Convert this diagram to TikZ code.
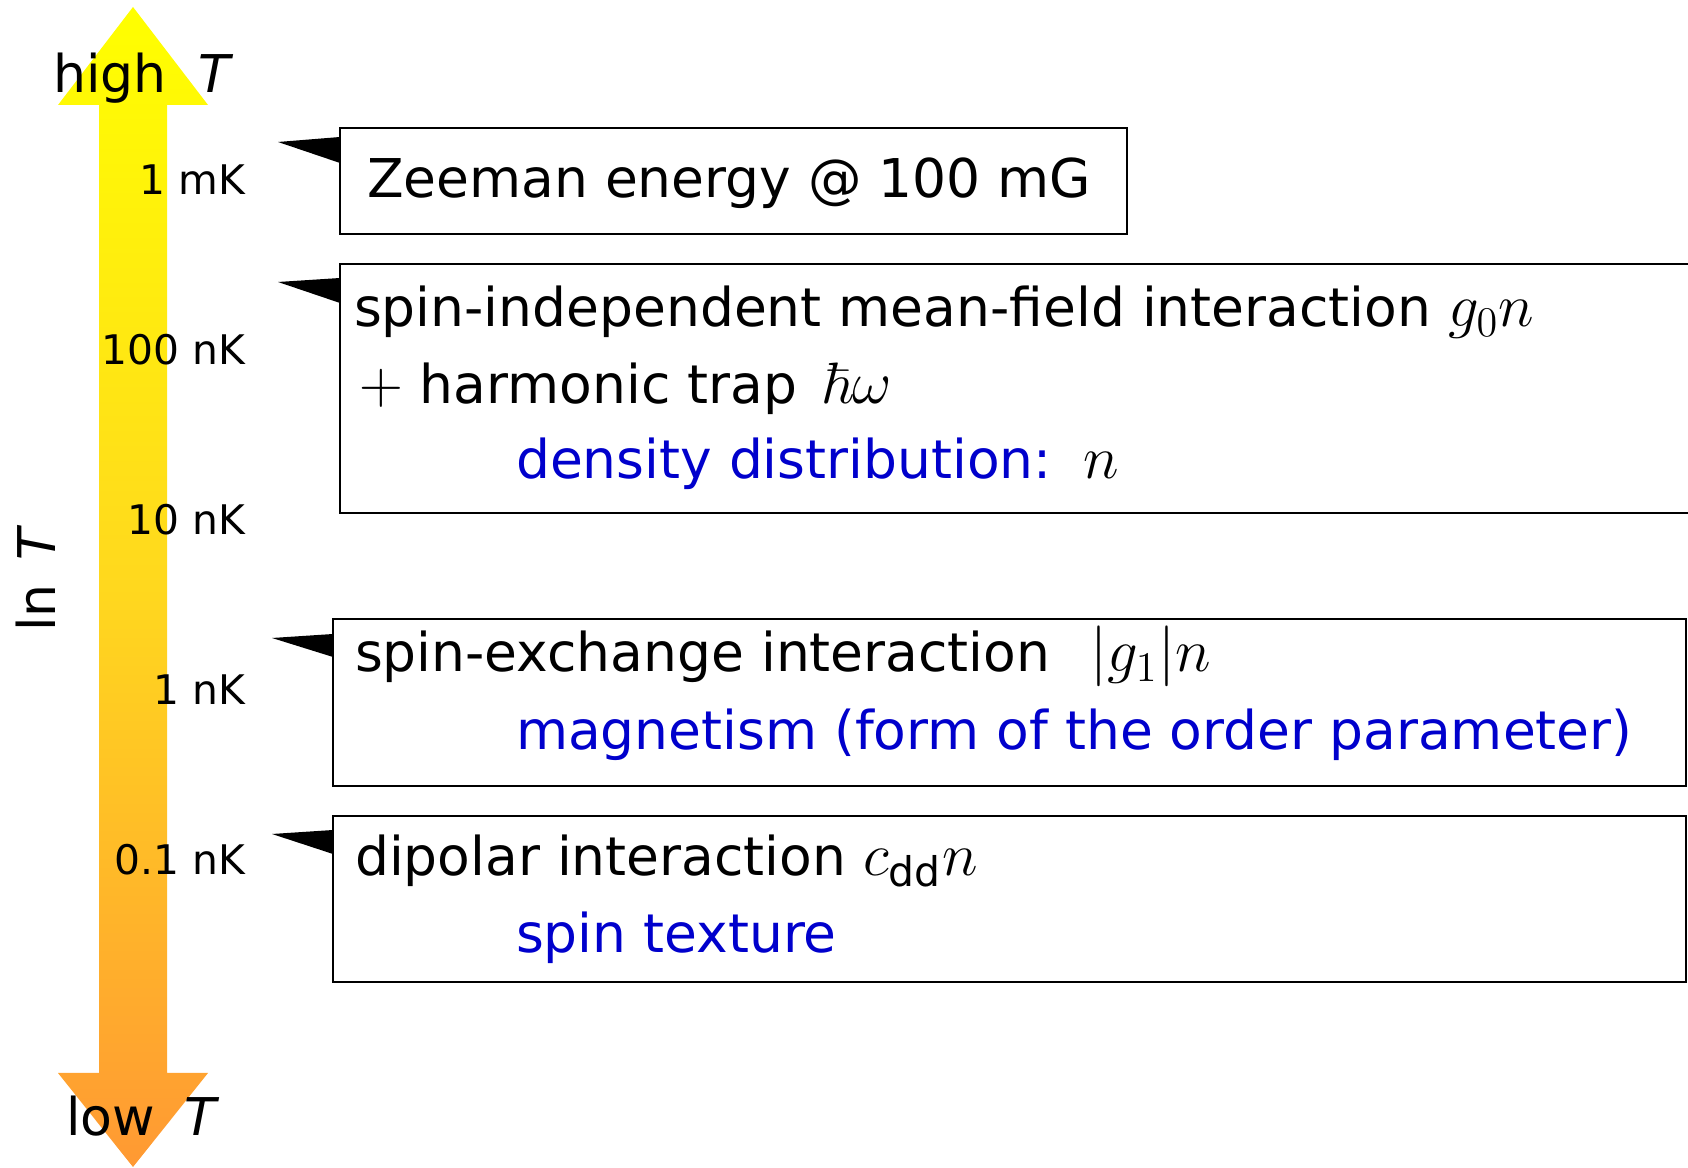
\documentclass[tikz,border=0pt]{standalone}
\usepackage{amsmath,amssymb}
\usepackage[no-math]{fontspec}
\setmainfont{DejaVu Sans}
\usepackage{tikz}

\definecolor{hotT}{RGB}{255,255,0}
\definecolor{midT}{RGB}{255,216,30}
\definecolor{coldT}{RGB}{255,153,51}
\definecolor{physblue}{RGB}{0,0,204}
\newcommand{\bigmath}[1]{{\fontsize{16.6pt}{18pt}\selectfont$#1$}}

\begin{document}
\begin{tikzpicture}[x=0.01cm, y=-0.01cm, line width=0.6pt,
    boxtxt/.style={anchor=base west, inner sep=0pt, font=\fontsize{15.2pt}{18pt}\selectfont},
    axistxt/.style={anchor=base west, inner sep=0pt, font=\fontsize{14.8pt}{18pt}\selectfont},
    scaletxt/.style={anchor=base east, inner sep=0pt, font=\fontsize{11.6pt}{14pt}\selectfont},
    pointer/.style={fill=black, draw=none}]
    \clip (0,0) rectangle (1688,1168);

    % temperature axis
    \shade[top color=hotT, bottom color=coldT, middle color=midT]
        (133,7) -- (208,105) -- (167,105) -- (167,1073) -- (208,1073) -- (133,1167)
        -- (58,1073) -- (99,1073) -- (99,105) -- (58,105) -- cycle;
    \node[axistxt] (hiT) at (52,93) {high\hspace{0.3em} \textit{T}};
    \node[axistxt] (loT) at (65,1136) {low\hspace{0.25em} \textit{T}};
    \node[axistxt, rotate=90] (lnT) at (55,633) {ln\hspace{0.15em} \textit{T}};

    \node[scaletxt] (mK) at (246,195) {1 mK};
    \node[scaletxt] (hundrednK) at (246,365) {100 nK};
    \node[scaletxt] (tennK) at (246,535) {10 nK};
    \node[scaletxt] (onenK) at (246,705) {1 nK};
    \node[scaletxt] (tenthnK) at (246,875) {0.1 nK};

    % energy scales
    \draw (340,128) rectangle (1127,234);
    \fill[pointer] (278,142) -- (340,137) -- (340,163) -- cycle;
    \node[boxtxt] (zeeman) at (366,198) {Zeeman energy @ 100 mG};

    \draw (340,264) rectangle (1700,513);
    \fill[pointer] (278,282) -- (340,278) -- (340,303) -- cycle;
    \node[boxtxt] (meanfield) at (353,327) {spin-independent mean-field interaction \bigmath{g_0n}};
    \node[boxtxt] (trap) at (358,404) {\bigmath{+} harmonic trap\hspace{0.45em}\bigmath{\hbar\omega}};
    \node[boxtxt] (density) at (515,479) {\color{physblue}density distribution:\hspace{0.6em}\color{black}\bigmath{n}};

    \draw (333,619) rectangle (1686,786);
    \fill[pointer] (272,638) -- (333,634) -- (333,657) -- cycle;
    \node[boxtxt] (exchange) at (354,672) {spin-exchange interaction\hspace{0.75em}\bigmath{|g_1|n}};
    \node[boxtxt, text=physblue] (magnet) at (515,750) {magnetism (form of the order parameter)};

    \draw (333,816) rectangle (1686,982);
    \fill[pointer] (272,834) -- (333,830) -- (333,854) -- cycle;
    \node[boxtxt] (dipolar) at (354,876) {dipolar interaction \bigmath{c_{\text{dd}}n}};
    \node[boxtxt, text=physblue] (texture) at (515,953) {spin texture};
\end{tikzpicture}
\end{document}
